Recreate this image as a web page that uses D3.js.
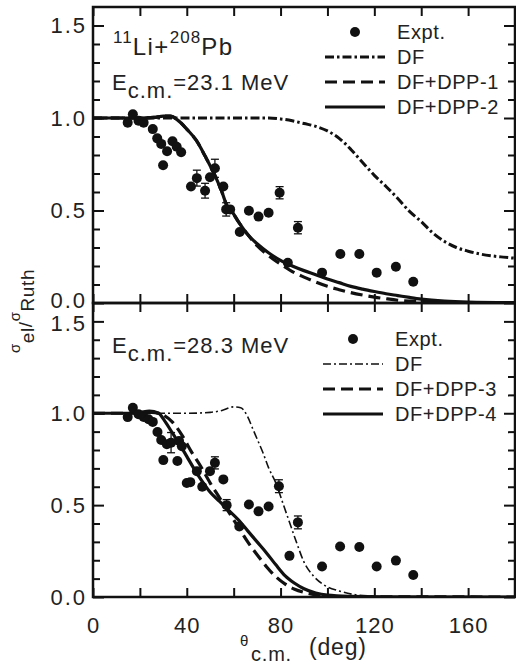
<!DOCTYPE html>
<html>
<head>
<meta charset="utf-8">
<script src="https://cdn.jsdelivr.net/npm/d3@7"></script>
<style>
  body { margin: 0; background: #fff; }
  text { font-family: "Liberation Sans", Arial, sans-serif; fill: #222; }
</style>
</head>
<body>
<div id="chart"></div>
<script>
// ---- data ----
// experimental points, 23.1 MeV
var thetaTop = [14.8, 17, 19.4, 21.6, 25.5, 27.4, 29.1, 29.9, 31.6, 33.9, 35.7, 37.6, 41.8, 44.3, 47.8, 49.9, 52, 55.6, 56.8, 58.5, 62.6, 66.5, 70.6, 74.9, 79.6, 83.1, 87.4, 97.7, 105.5, 113.6, 121, 129.2, 136.6];
var valTop   = [0.975, 1.02, 0.985, 0.975, 0.94, 0.89, 0.86, 0.745, 0.82, 0.874, 0.845, 0.815, 0.63, 0.675, 0.607, 0.68, 0.728, 0.63, 0.506, 0.506, 0.384, 0.499, 0.467, 0.488, 0.596, 0.218, 0.407, 0.164, 0.265, 0.265, 0.164, 0.196, 0.115];
var errTop   = [0, 0, 0, 0, 0, 0, 0, 0, 0, 0, 0, 0, 0, 0.043, 0.04, 0, 0.049, 0, 0.036, 0, 0, 0, 0, 0, 0.033, 0, 0.033, 0, 0, 0, 0, 0, 0];

// experimental points, 28.3 MeV
var thetaBot = [14.8, 17, 19.4, 21.6, 23.7, 25.5, 27.5, 29.1, 30, 31.5, 33.3, 36, 36.7, 37.9, 40, 41.5, 44.3, 46.6, 49.9, 52, 55.6, 57, 62.4, 66.5, 70.6, 74.9, 79.3, 83.8, 87.4, 97.7, 105.4, 113.6, 121, 129.2, 136.6];
var valBot   = [0.979, 1.03, 0.995, 0.98, 0.967, 0.953, 0.898, 0.854, 0.745, 0.831, 0.84, 0.74, 0.849, 0.82, 0.62, 0.625, 0.685, 0.6, 0.685, 0.73, 0.64, 0.5, 0.384, 0.503, 0.466, 0.493, 0.603, 0.224, 0.406, 0.166, 0.275, 0.272, 0.166, 0.198, 0.12];
var errBot   = [0, 0, 0, 0, 0, 0, 0, 0, 0, 0, 0.055, 0, 0, 0, 0, 0, 0, 0, 0, 0.033, 0, 0.03, 0, 0, 0, 0, 0.035, 0, 0.035, 0, 0, 0, 0, 0, 0];

// calculated curves, [theta, sigma/sigmaRuth]
var dfTop = [[0,1],[60,1],[75,1],[80,0.995],[85,0.985],[90,0.97],[95,0.955],[100,0.93],[105,0.89],[110,0.83],[115,0.76],[120,0.69],[125,0.63],[130,0.565],[135,0.495],[140,0.44],[145,0.378],[150,0.332],[155,0.3],[160,0.28],[165,0.265],[170,0.255],[175,0.248],[180,0.242]];
var dpp1 = [[0,1],[20,1],[26,1.003],[30,1.01],[33,1.01],[36,0.99],[40,0.94],[44,0.88],[48,0.79],[52,0.69],[55,0.6],[57,0.53],[59,0.5],[62,0.44],[66,0.37],[70,0.31],[75,0.255],[80,0.21],[85,0.17],[90,0.14],[95,0.113],[100,0.09],[105,0.072],[110,0.056],[115,0.043],[120,0.032],[125,0.023],[130,0.015],[140,0.007],[150,0.003],[165,0.001],[180,0]];
var dpp2 = [[0,1],[20,1],[26,1.003],[30,1.01],[33,1.01],[36,0.99],[40,0.94],[44,0.88],[48,0.79],[52,0.69],[55,0.6],[57,0.53],[59,0.5],[62,0.44],[66,0.37],[70,0.32],[75,0.27],[80,0.23],[85,0.2],[90,0.175],[95,0.153],[100,0.13],[105,0.11],[110,0.09],[115,0.075],[120,0.062],[125,0.05],[130,0.04],[135,0.03],[140,0.021],[150,0.01],[160,0.005],[180,0.002]];

var dfBot = [[0,1],[40,1],[50,1.005],[55,1.015],[60,1.035],[63,1.03],[66,0.98],[68,0.92],[70,0.86],[72.5,0.785],[75,0.7],[78,0.62],[81,0.51],[84,0.4],[87,0.29],[90,0.19],[94,0.115],[98,0.07],[105,0.033],[111,0.014],[120,0.004],[130,0],[180,0]];
var dpp3 = [[0,1],[20,1],[25,1.005],[30,0.99],[34,0.95],[38,0.88],[42,0.79],[46,0.71],[50,0.62],[54,0.54],[58,0.46],[62,0.38],[66,0.3],[70,0.23],[74,0.165],[78,0.11],[82,0.07],[86,0.042],[90,0.025],[95,0.012],[100,0.005],[110,0.001],[180,0]];
var dpp4 = [[0,1],[15,1],[20,1.005],[24,1.012],[28,1],[31,0.95],[34,0.89],[37,0.83],[40,0.765],[43,0.7],[46,0.64],[50,0.57],[54,0.52],[58,0.47],[62,0.42],[66,0.36],[70,0.3],[74,0.24],[78,0.175],[82,0.115],[86,0.075],[90,0.045],[95,0.022],[100,0.01],[110,0.003],[120,0.001],[180,0]];

var xTicks = [0, 20, 40, 60, 80, 100, 120, 140, 160, 180];
var yMajor = [0, 0.5, 1.0, 1.5];
var yMinor = [0.1, 0.2, 0.3, 0.4, 0.6, 0.7, 0.8, 0.9, 1.1, 1.2, 1.3, 1.4];

var legendTop = ['Expt.', 'DF', 'DF+DPP-1', 'DF+DPP-2'];
var legendBot = ['Expt.', 'DF', 'DF+DPP-3', 'DF+DPP-4'];

// ---- layout ----
var W = 516, H = 666;
var left = 93, right = 515;

var svg = d3.select('#chart').append('svg')
    .attr('width', W)
    .attr('height', H);

var x = d3.scaleLinear().domain([0, 180]).range([left, right]);

var line = d3.line().curve(d3.curveMonotoneX);

function drawPanel(opt) {
  var y = d3.scaleLinear().domain([0, 1.6]).range([opt.y1, opt.y0]);
  line.x(function(d) { return x(d[0]); }).y(function(d) { return y(d[1]); });

  var g = svg.append('g');

  g.append('clipPath').attr('id', opt.id)
    .append('rect')
    .attr('x', left).attr('y', opt.y0)
    .attr('width', right - left).attr('height', opt.y1 - opt.y0);

  // axes, ticks pointing inwards on all four sides
  g.append('g').attr('class', 'ax yl').attr('transform', 'translate(' + left + ',0)')
    .call(d3.axisLeft(y).tickValues(yMajor).tickSize(-11).tickPadding(6).tickFormat(d3.format('.1f')));
  g.append('g').attr('class', 'ax').attr('transform', 'translate(' + left + ',0)')
    .call(d3.axisLeft(y).tickValues(yMinor).tickSize(-7).tickFormat(''));
  g.append('g').attr('class', 'ax').attr('transform', 'translate(' + right + ',0)')
    .call(d3.axisRight(y).tickValues(yMajor).tickSize(-11).tickFormat(''));
  g.append('g').attr('class', 'ax').attr('transform', 'translate(' + right + ',0)')
    .call(d3.axisRight(y).tickValues(yMinor).tickSize(-7).tickFormat(''));
  g.append('g').attr('class', 'ax').attr('transform', 'translate(0,' + opt.y0 + ')')
    .call(d3.axisTop(x).tickValues(xTicks).tickSize(-9).tickFormat(''));
  g.append('g').attr('class', 'ax xb').attr('transform', 'translate(0,' + opt.y1 + ')')
    .call(d3.axisBottom(x).tickValues(xTicks).tickSize(-9).tickPadding(20)
      .tickFormat(function(d) { return opt.xLabels && d % 40 === 0 && d < 180 ? d : ''; }));

  g.selectAll('.ax .domain').remove();
  g.selectAll('.ax line').attr('stroke', '#111').attr('stroke-width', 2);
  g.selectAll('.ax text').attr('fill', '#222')
    .style('font-family', '"Liberation Sans", Arial, sans-serif')
    .style('font-size', '22px').style('letter-spacing', '2px');
  g.selectAll('.xb text').attr('dy', null).attr('y', 36).style('letter-spacing', '1px');
  // where the two panels meet, the 0.0 and 1.5 labels sit a little apart
  g.selectAll('.yl text').attr('y', function(d) {
    if (opt.xLabels && d === 1.5) return 2;
    if (!opt.xLabels && d === 0) return -3;
    return 0;
  });

  // frame
  g.append('rect')
    .attr('x', left).attr('y', opt.y0)
    .attr('width', right - left).attr('height', opt.y1 - opt.y0)
    .attr('fill', 'none').attr('stroke', '#111').attr('stroke-width', 2.5);

  var curves = g.append('g').attr('clip-path', 'url(#' + opt.id + ')');
  curves.append('path').datum(opt.df)
    .attr('d', line).attr('fill', 'none').attr('stroke', '#111')
    .attr('stroke-width', opt.dfWidth).attr('stroke-dasharray', opt.dfDash);
  curves.append('path').datum(opt.dashed)
    .attr('d', line).attr('fill', 'none').attr('stroke', '#111')
    .attr('stroke-width', 3.2).attr('stroke-dasharray', '12,6');
  curves.append('path').datum(opt.solid)
    .attr('d', line).attr('fill', 'none').attr('stroke', '#111')
    .attr('stroke-width', 3.2);

  // data with error bars
  var pts = opt.theta.map(function(t, i) { return { t: t, v: opt.val[i], e: opt.err[i] }; });
  var eb = g.append('g').selectAll('g').data(pts.filter(function(d) { return d.e > 0; }))
    .enter().append('g').attr('stroke', '#111').attr('stroke-width', 1.3);
  eb.append('line')
    .attr('x1', function(d) { return x(d.t); }).attr('x2', function(d) { return x(d.t); })
    .attr('y1', function(d) { return y(d.v - d.e); }).attr('y2', function(d) { return y(d.v + d.e); });
  [-1, 1].forEach(function(s) {
    eb.append('line')
      .attr('x1', function(d) { return x(d.t) - 4; }).attr('x2', function(d) { return x(d.t) + 4; })
      .attr('y1', function(d) { return y(d.v + s * d.e); }).attr('y2', function(d) { return y(d.v + s * d.e); });
  });
  g.append('g').selectAll('circle').data(pts).enter().append('circle')
    .attr('cx', function(d) { return x(d.t); })
    .attr('cy', function(d) { return y(d.v); })
    .attr('r', 5).attr('fill', '#111');

  // legend
  var lg = g.append('g');
  var rows = lg.selectAll('g').data(opt.legend).enter().append('g')
    .attr('transform', function(d, i) { return 'translate(0,' + (opt.legY + i * 25) + ')'; });
  rows.append('text')
    .attr('x', opt.legX + 72).attr('y', 0).attr('dy', '0.36em')
    .style('font-size', '20px').style('letter-spacing', '0.6px')
    .text(function(d) { return d; });
  rows.each(function(d, i) {
    var r = d3.select(this);
    if (i === 0) {
      r.append('circle').attr('cx', opt.legX + 30).attr('cy', 0).attr('r', 5).attr('fill', '#111');
      return;
    }
    var ln = r.append('line').attr('x1', opt.legX).attr('x2', opt.legX + 60)
      .attr('y1', 0).attr('y2', 0).attr('stroke', '#111');
    if (i === 1) ln.attr('stroke-width', opt.dfWidth).attr('stroke-dasharray', opt.dfDash);
    if (i === 2) ln.attr('stroke-width', 3.2).attr('stroke-dasharray', '12,6');
    if (i === 3) ln.attr('stroke-width', 3.2);
  });
}

drawPanel({
  id: 'clipTop', y0: 7, y1: 303,
  theta: thetaTop, val: valTop, err: errTop,
  df: dfTop, dashed: dpp1, solid: dpp2,
  dfWidth: 3, dfDash: '9,3,2.5,3',
  legend: legendTop, legX: 325, legY: 32, xLabels: false
});
drawPanel({
  id: 'clipBot', y0: 303, y1: 597,
  theta: thetaBot, val: valBot, err: errBot,
  df: dfBot, dashed: dpp3, solid: dpp4,
  dfWidth: 1.6, dfDash: '8,3,2,3',
  legend: legendBot, legX: 323, legY: 339, xLabels: true
});

// panel annotations
var t1 = svg.append('text').attr('x', 113).attr('y', 55).style('font-size', '24px').style('letter-spacing', '1.5px');
t1.append('tspan').attr('dy', -12).style('font-size', '17px').style('letter-spacing', '1px').text('11');
t1.append('tspan').attr('dy', 12).text('Li+');
t1.append('tspan').attr('dy', -12).style('font-size', '17px').style('letter-spacing', '1px').text('208');
t1.append('tspan').attr('dy', 12).text('Pb');

function energy(yPos, label) {
  var t = svg.append('text').attr('x', 112).attr('y', yPos).style('font-size', '22px').style('letter-spacing', '1px');
  t.append('tspan').text('E');
  t.append('tspan').attr('dy', 8).text('c.m.');
  t.append('tspan').attr('dy', -8).text('=' + label + ' MeV');
}
energy(90, '23.1');
energy(353, '28.3');

// axis titles
var xt = svg.append('text').style('letter-spacing', '0.8px');
xt.append('tspan').attr('x', 240).attr('y', 646).style('font-size', '15px').text('\u03b8');
xt.append('tspan').attr('x', 251).attr('y', 661).style('font-size', '20px').text('c.m.');
xt.append('tspan').attr('x', 309).attr('y', 655).style('font-size', '23px').text('(deg)');

var yt = svg.append('text')
  .attr('transform', 'translate(20,311) rotate(-90)')
  .attr('text-anchor', 'middle')
  .style('font-size', '19px').style('letter-spacing', '0.6px');
yt.append('tspan').style('font-size', '15px').text('\u03c3');
yt.append('tspan').attr('dy', 14).text('el');
yt.append('tspan').attr('dy', -2).text('/');
yt.append('tspan').attr('dy', -12).style('font-size', '15px').text('\u03c3');
yt.append('tspan').attr('dy', 14).text('Ruth');
</script>
</body>
</html>
